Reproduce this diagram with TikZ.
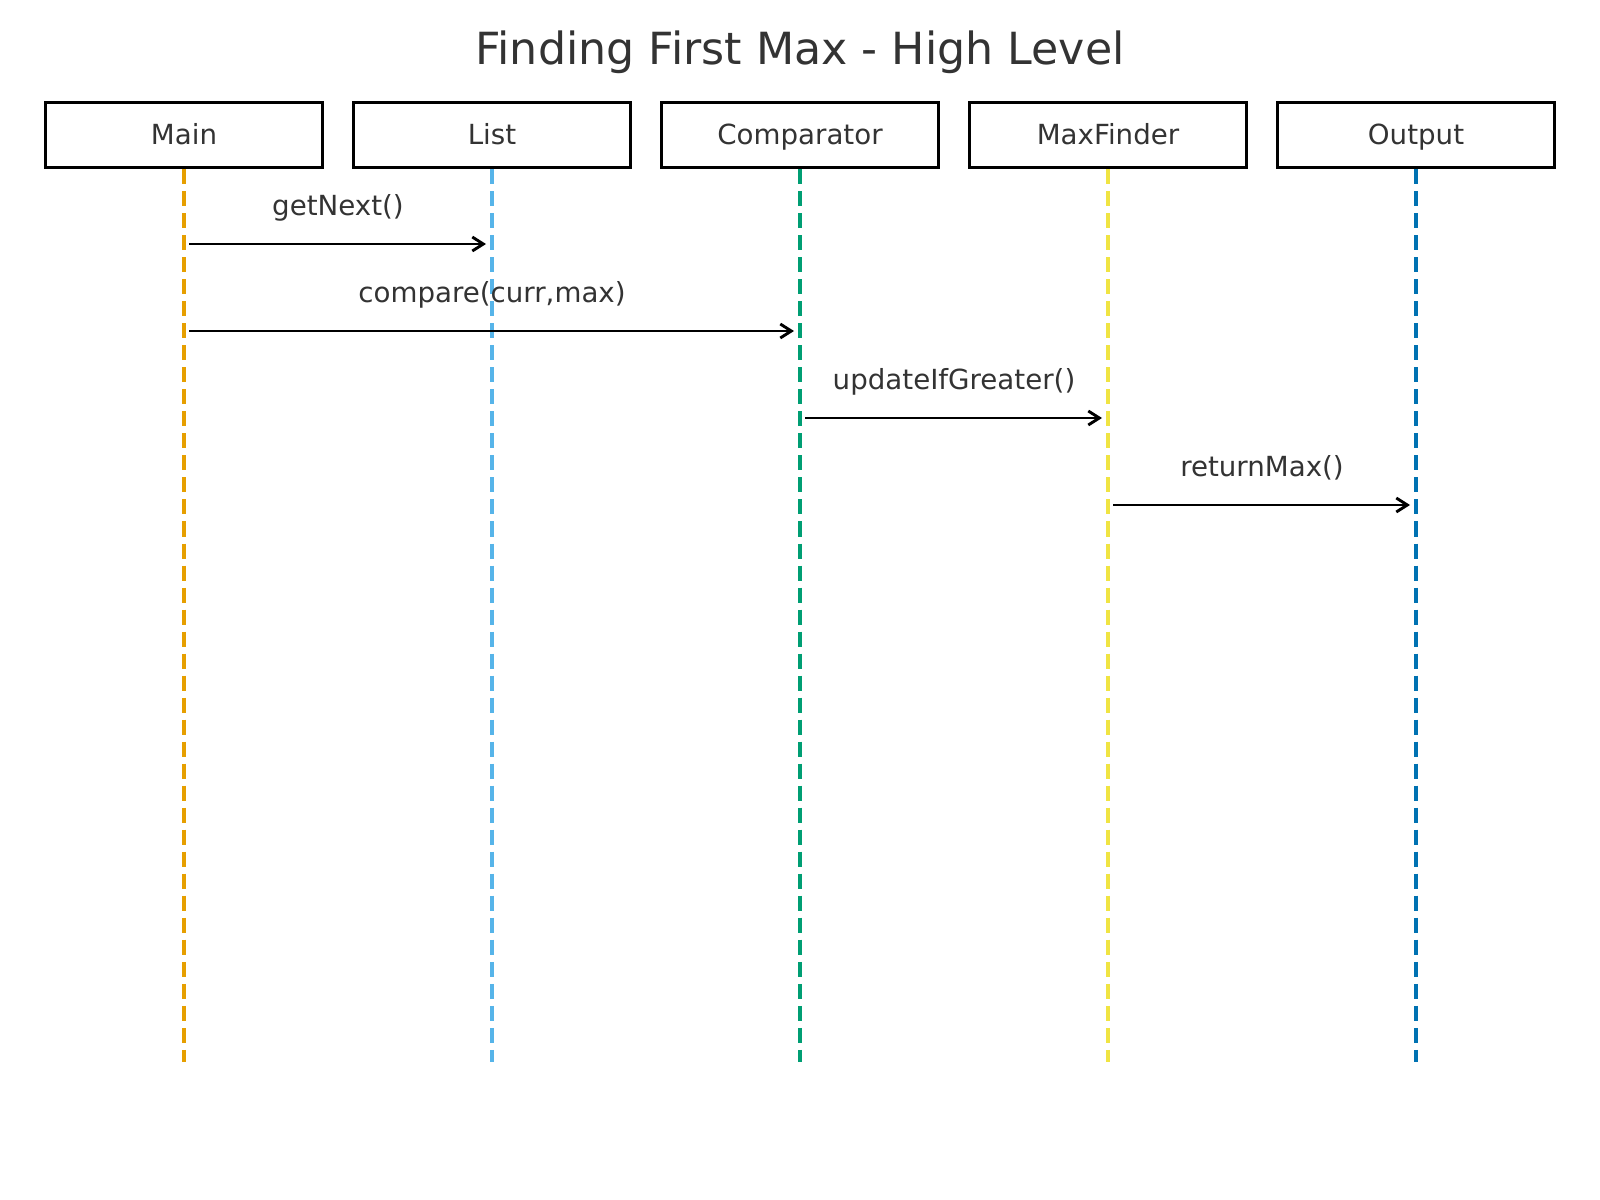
\documentclass[tikz,border=0pt]{standalone}
\usepackage{fontspec}
\setmainfont{DejaVu Sans}
\usetikzlibrary{arrows.meta}
\definecolor{txtgray}{HTML}{333333}
\definecolor{mainc}{HTML}{E69F00}
\definecolor{listc}{HTML}{56B4E9}
\definecolor{compc}{HTML}{009E73}
\definecolor{maxc}{HTML}{F0E442}
\definecolor{outc}{HTML}{0072B2}
\begin{document}
\begin{tikzpicture}[x=0.01in,y=-0.01in,
    head/.style={draw,line width=2.2pt,minimum width=2.77in,minimum height=0.655in,inner sep=0pt,text=txtgray,font=\fontsize{20}{24}\selectfont,text height=17pt,text depth=3pt},
    life/.style={line width=2.2pt,dash pattern=on 0.15in off 0.07in},
    msg/.style={line width=2.1pt,-{Straight Barb[length=0.11in,width=0.14in,line width=2.1pt]},shorten <=0.05in,shorten >=0.06in},
    lbl/.style={text=txtgray,font=\fontsize{20}{24}\selectfont,text height=17pt,text depth=3pt,yshift=0.38in}]
    \useasboundingbox (0,0) rectangle (1600,1200);
    \node[text=txtgray,font=\fontsize{32}{38}\selectfont] (title) at (800,52) {Finding First Max - High Level};
    \node[head] (Main) at (184,135) {Main};
    \node[head] (List) at (492,135) {List};
    \node[head] (Comparator) at (800,135) {Comparator};
    \node[head] (MaxFinder) at (1108,135) {MaxFinder};
    \node[head] (Output) at (1416,135) {Output};
    \foreach \n/\c in {Main/mainc,List/listc,Comparator/compc,MaxFinder/maxc,Output/outc}
        \draw[life,\c] (\n.south) -- ++(0,893) coordinate (\n-end);
    \draw[msg] (Main |- 0,244) -- (List |- 0,244) node[midway,lbl] {getNext()};
    \draw[msg] (Main |- 0,331) -- (Comparator |- 0,331) node[midway,lbl] {compare(curr,max)};
    \draw[msg] (Comparator |- 0,418) -- (MaxFinder |- 0,418) node[midway,lbl] {updateIfGreater()};
    \draw[msg] (MaxFinder |- 0,505) -- (Output |- 0,505) node[midway,lbl] {returnMax()};
\end{tikzpicture}
\end{document}
